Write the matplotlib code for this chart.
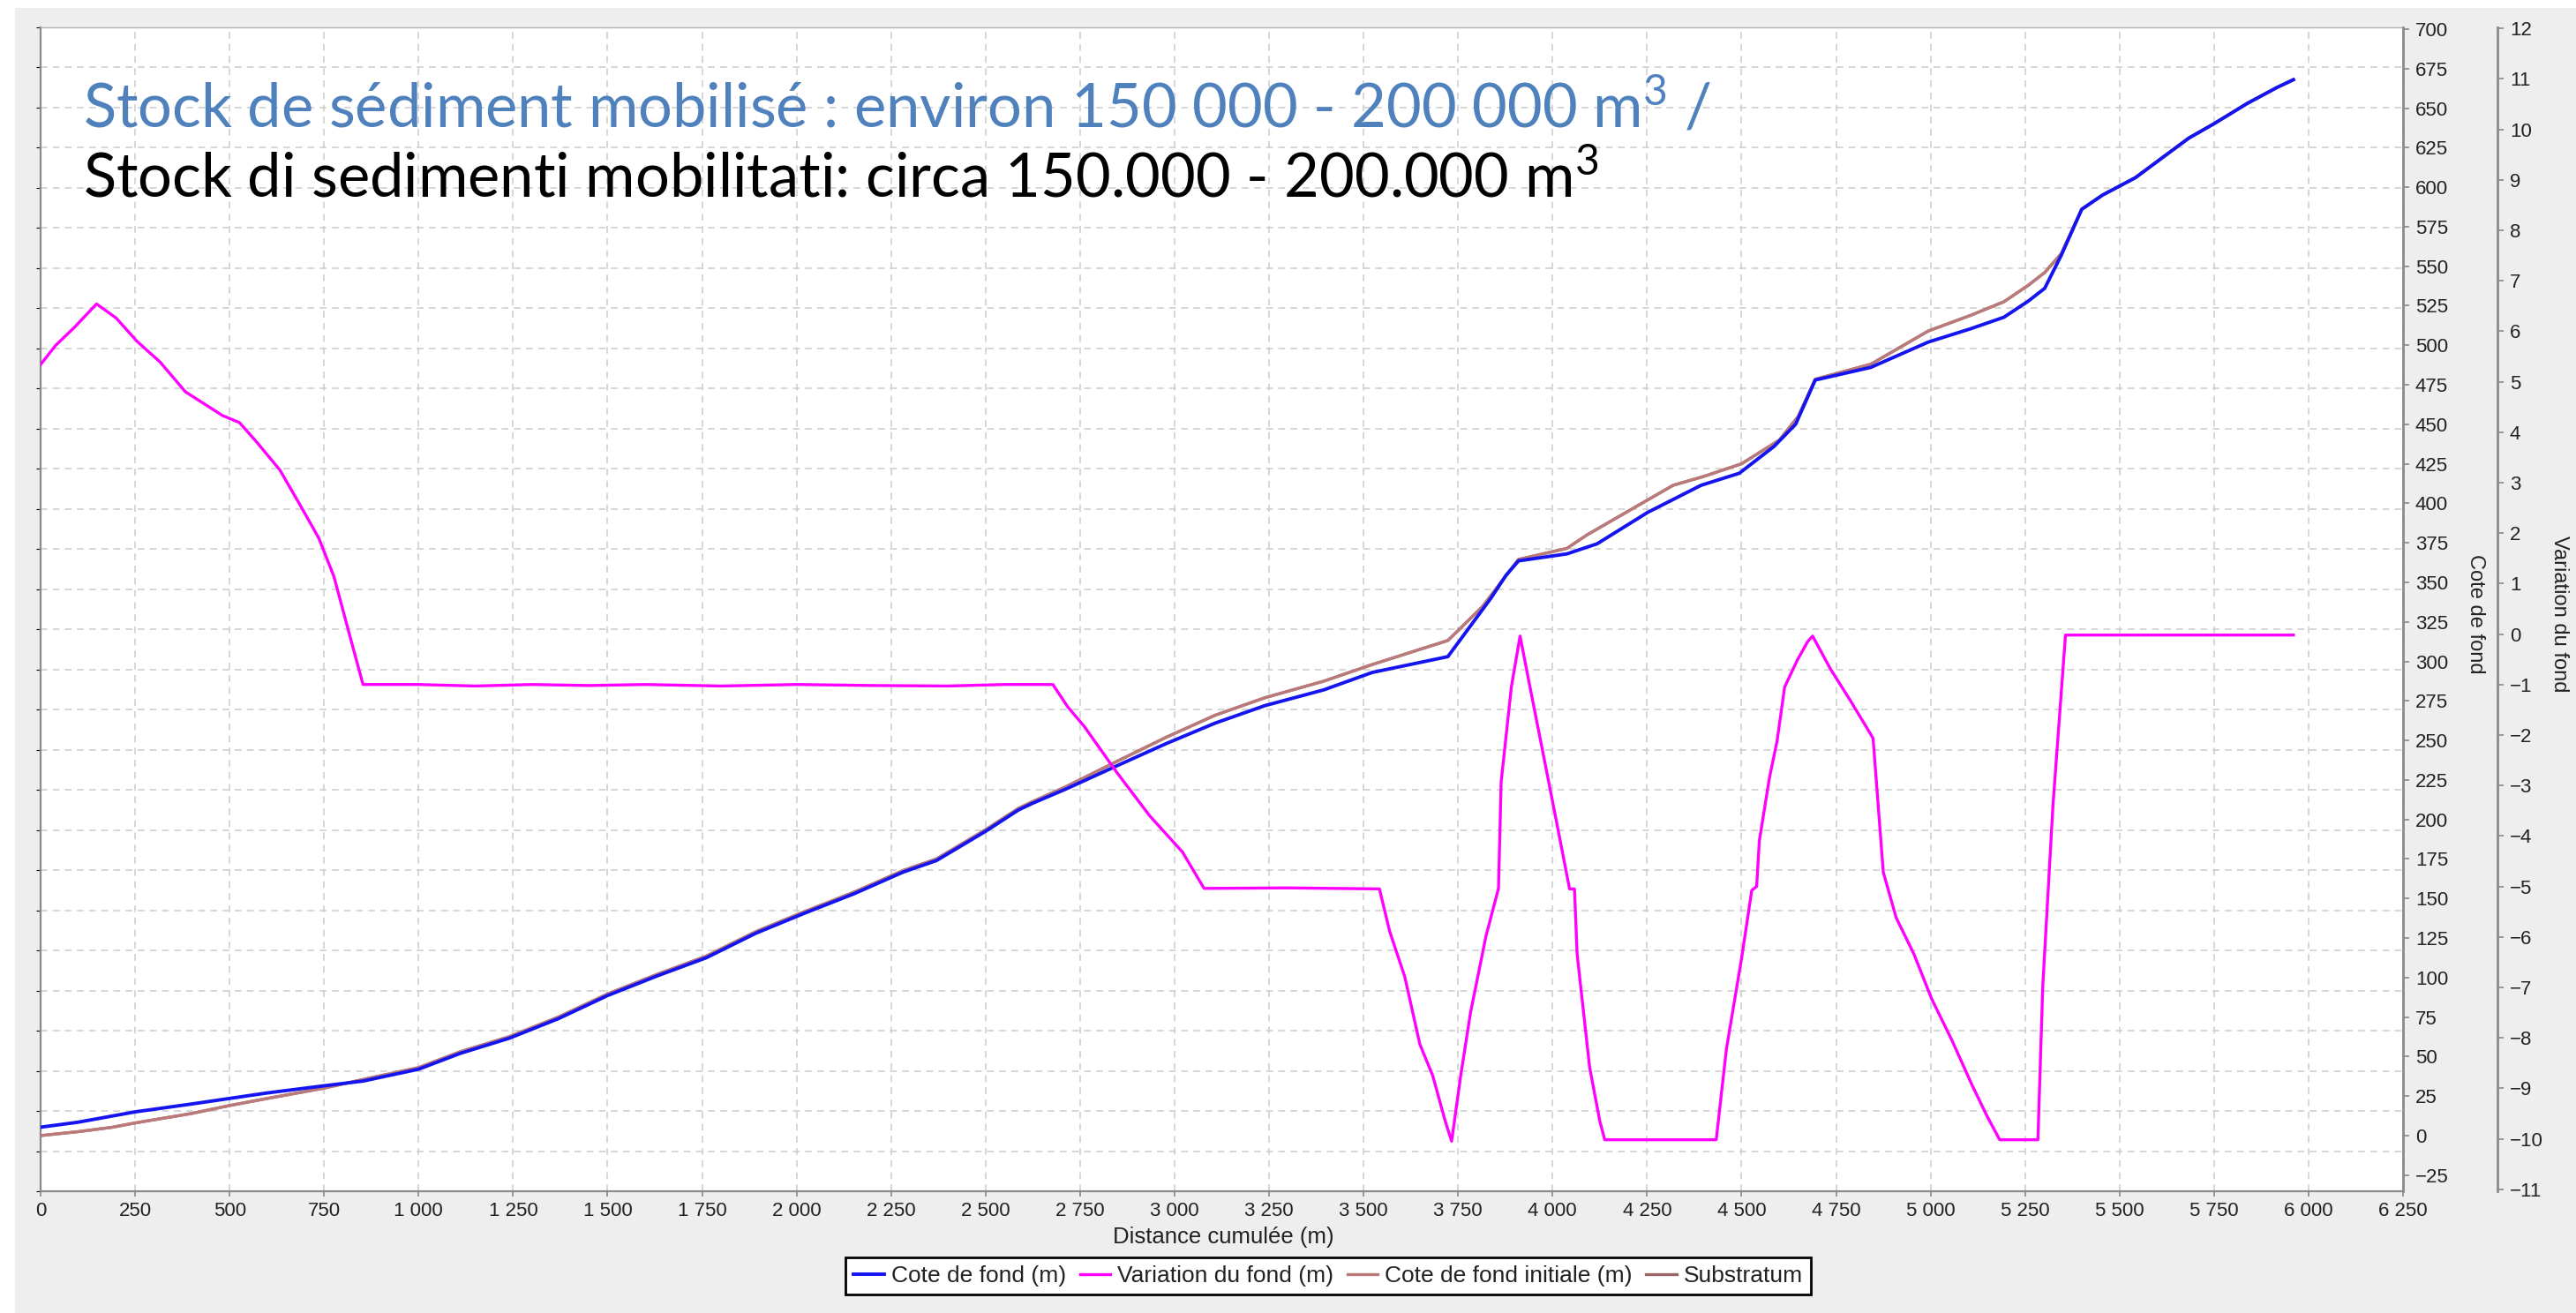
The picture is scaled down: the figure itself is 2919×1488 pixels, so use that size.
"""
Profil en long : cote de fond, variation du fond, cote initiale et substratum
"""

import numpy
import matplotlib
matplotlib.use("Agg")
import matplotlib.pyplot as plt
from matplotlib.patches import Rectangle
from matplotlib.ticker import FuncFormatter

plt.rcParams["font.family"] = ["Liberation Sans", "DejaVu Sans"]
plt.rcParams["mathtext.default"] = "regular"

# distance (m) / cote de fond (m)
dist_fond = [0, 100, 250, 400, 500, 600, 750, 853, 1000, 1110, 1240, 1370, 1500,
             1631, 1761, 1892, 2020, 2152, 2282, 2370, 2500, 2587, 2622, 2715,
             2848, 2978, 3108, 3239, 3395, 3523, 3723, 3837, 3877, 3910, 4038,
             4118, 4252, 4393, 4494, 4586, 4643, 4695, 4842, 4994, 5107, 5194,
             5259, 5302, 5346, 5400, 5455, 5542, 5683, 5749, 5838, 5916, 5960]
cote_fond = [5.3, 8.5, 15, 20, 23.5, 27, 31.5, 34.5, 42, 52, 61.6, 74, 88.6,
             101, 112.5, 128, 140.6, 153, 166.7, 174, 192.5, 206, 210, 219.5,
             234, 248, 261, 272, 282, 293, 303, 340, 354.5, 363.6, 368,
             374.4, 394.3, 411.4, 419, 436, 450, 478, 486, 502, 510.5, 517.7,
             528, 536, 557, 586, 595, 606, 631, 640, 653, 663, 668]

# distance (m) / cote de fond initiale (m)
dist_init = [0, 100, 188, 250, 400, 500, 600, 750, 853, 1000, 1110, 1240, 1370,
             1500, 1631, 1761, 1892, 2020, 2152, 2282, 2370, 2500, 2587, 2622,
             2715, 2848, 2978, 3108, 3239, 3395, 3523, 3723, 3814, 3910, 4038,
             4091, 4319, 4400, 4500, 4600, 4650, 4695, 4842, 4994, 5107, 5194,
             5259, 5302, 5346, 5400, 5455, 5542, 5683, 5749, 5838, 5916, 5960]
cote_init = [0, 2.5, 5.2, 8, 14, 19, 23.5, 30, 35.5, 43, 53, 62.6, 75,
             89.6, 102, 113.5, 129, 141.6, 154, 167.7, 175, 193.5, 207, 211,
             221, 236.8, 252, 266, 277, 287.5, 298, 313.2, 334.5, 364.5, 371.5,
             380, 411.4, 417, 425, 440, 455, 478.5, 488, 509, 519, 527.5,
             538, 546, 558, 586, 595, 606, 631, 640, 653, 663, 668]

# substratum : confondu avec la cote initiale sur le graphe
dist_sub = dist_init
cote_sub = cote_init

# distance (m) / variation du fond (m)
dist_var = [0, 40, 90, 148, 200, 255, 316, 383, 481, 526, 571, 633, 687, 736,
            776, 815, 853, 1000, 1150, 1300, 1450, 1600, 1800, 2000, 2200,
            2400, 2550, 2678, 2717, 2761, 2848, 2934, 3021, 3078, 3300, 3542,
            3569, 3609, 3649, 3683, 3716, 3733, 3757, 3783, 3824, 3857, 3864,
            3891, 3914, 3945, 3978, 4011, 4045, 4058, 4065, 4098, 4125, 4138,
            4433, 4460, 4500, 4527, 4540, 4547, 4574, 4594, 4614, 4648, 4675,
            4688, 4735, 4788, 4842, 4848, 4875, 4909, 4956, 5003, 5056, 5110,
            5150, 5183, 5284, 5297, 5324, 5357, 5960]
variation = [5.34, 5.72, 6.08, 6.54, 6.26, 5.8, 5.39, 4.80, 4.33, 4.19, 3.81,
             3.25, 2.55, 1.90, 1.14, 0.05, -1.0, -1.0, -1.03, -1.0, -1.02, -1.0,
             -1.03, -1.0, -1.02, -1.03, -1.0, -1.0, -1.44, -1.83, -2.75, -3.6,
             -4.32, -5.04, -5.03, -5.05, -5.89, -6.79, -8.13, -8.75, -9.65,
             -10.05, -8.75, -7.5, -5.98, -5.04, -2.93, -1.05, -0.04, -1.23,
             -2.48, -3.74, -5.05, -5.05, -6.34, -8.58, -9.65, -10.02, -10.02,
             -8.22, -6.43, -5.08, -5.0, -4.10, -2.84, -2.12, -1.05, -0.51,
             -0.15, -0.04, -0.69, -1.32, -1.99, -2.07, -4.72, -5.62, -6.34,
             -7.23, -8.04, -8.94, -9.56, -10.02, -10.02, -6.96, -3.38, -0.02,
             -0.02]

x_ticks = list(range(0, 6251, 250))
cote_ticks = list(range(-25, 701, 25))
var_ticks = list(range(-11, 13))

titre_fr = "Stock de sédiment mobilisé : environ 150 000 - 200 000 m$^3$ /"
titre_it = "Stock di sedimenti mobilitati: circa 150.000 - 200.000 m$^3$"

W, H = 2919, 1488
fig = plt.figure(figsize=(W / 100, H / 100), dpi=100, facecolor="white")
fig.patches.append(Rectangle((17 / W, 0), 1, 1 - 9 / H, transform=fig.transFigure,
                             facecolor="#eeeeee", edgecolor="none", zorder=-10))

left, right, top, bottom = 46, 2723, 31, 1350
ax = fig.add_axes([left / W, 1 - bottom / H, (right - left) / W, (bottom - top) / H])
ax.set_facecolor("white")
ax.set_xlim(0, 6250)
ax.set_ylim(0, 29)
ax.set_xticks(x_ticks)
ax.set_yticks(range(0, 30))
ax.xaxis.set_major_formatter(FuncFormatter(lambda v, p: f"{int(v):,}".replace(",", " ")))
ax.grid(True, color="#cccccc", linestyle=(0, (5, 4)), linewidth=1.1)
ax.tick_params(axis="y", left=False, labelleft=False)
ax.tick_params(axis="x", direction="out", length=4, width=1.2, color="#888888",
               labelsize=16, labelcolor="#222222", pad=5)
for s in ["left", "bottom"]:
    ax.spines[s].set_color("#8a8a8a")
    ax.spines[s].set_linewidth(1.6)
ax.spines["top"].set_color("#b0b0b0")
ax.spines["top"].set_linewidth(1.0)
ax.spines["right"].set_visible(False)

# axe cote de fond
ax_c = ax.twinx()
ax_c.set_ylim(-35.2, 701.1)
ax_c.set_yticks(cote_ticks)
ax_c.tick_params(axis="y", direction="out", length=5, width=1.2, color="#888888",
                 labelsize=16, labelcolor="#222222", pad=5)
ax_c.spines["right"].set_color("#8a8a8a")
ax_c.spines["right"].set_linewidth(2)
for s in ["left", "top", "bottom"]:
    ax_c.spines[s].set_visible(False)

# axe variation du fond
ax_v = ax.twinx()
ax_v.set_ylim(-11.04, 12.02)
ax_v.set_yticks(var_ticks)
ax_v.spines["right"].set_position(("axes", (2830 - left) / (right - left)))
ax_v.spines["right"].set_color("#8a8a8a")
ax_v.spines["right"].set_linewidth(2)
for s in ["left", "top", "bottom"]:
    ax_v.spines[s].set_visible(False)
ax_v.tick_params(axis="y", direction="out", length=5, width=1.2, color="#888888",
                 labelsize=16, labelcolor="#222222", pad=5)

l_sub, = ax_c.plot(dist_sub, cote_sub, color="#9a6666", lw=2.4, label="Substratum")
l_init, = ax_c.plot(dist_init, cote_init, color="#bb7a7a", lw=2.4,
                    label="Cote de fond initiale (m)")
l_fond, = ax_c.plot(dist_fond, cote_fond, color="#1414f0", lw=2.8, label="Cote de fond (m)")
l_var, = ax_v.plot(dist_var, variation, color="#ff00ff", lw=2.4, label="Variation du fond (m)")

fig.text(2805 / W, 1 - 696 / H, "Cote de fond", rotation=270, ha="center", va="center",
         fontsize=17, color="#222222")
fig.text(2900 / W, 1 - 696 / H, "Variation du fond", rotation=270, ha="center", va="center",
         fontsize=17, color="#222222")
fig.text(1386 / W, 1 - 1402 / H, "Distance cumulée (m)", ha="center", va="center",
         fontsize=18.5, color="#222222")

leg = fig.legend([l_fond, l_var, l_init, l_sub],
                 ["Cote de fond (m)", "Variation du fond (m)", "Cote de fond initiale (m)", "Substratum"],
                 loc="center", bbox_to_anchor=(1505 / W, 1 - 1446 / H), ncol=4, fontsize=19,
                 frameon=True, fancybox=False, edgecolor="black", framealpha=1,
                 handlelength=1.3, handletextpad=0.3, columnspacing=0.6, borderpad=0.35)
leg.get_frame().set_linewidth(2)
for t in leg.get_texts():
    t.set_color("#222222")

fig.text(94 / W, 1 - 145 / H, titre_fr, family=["Lato", "DejaVu Sans"], fontsize=49.4,
         color="#4f81bd", ha="left", va="baseline")
fig.text(94 / W, 1 - 224 / H, titre_it, family=["Lato", "DejaVu Sans"], fontsize=49.4,
         color="black", ha="left", va="baseline")

fig.savefig("out.png", dpi=100, facecolor=fig.get_facecolor())
